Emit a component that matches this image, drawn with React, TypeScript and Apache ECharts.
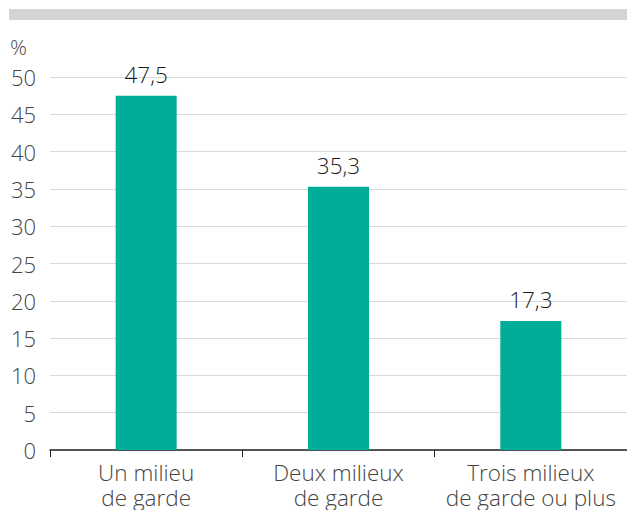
import React, { useEffect, useRef } from "react";
import * as echarts from "echarts";

const categories = ["Un milieu\nde garde", "Deux milieux\nde garde", "Trois milieux\nde garde ou plus"];
const values = [47.5, 35.3, 17.3];
const yMin = 0;
const yMax = 50;
const yStep = 5;
const unitLabel = "%";

const FONT = "'Open Sans', 'Noto Sans', sans-serif";

export default function App() {
  const ref = useRef<HTMLDivElement>(null);
  useEffect(() => {
    if (!ref.current) return;
    const chart = echarts.init(ref.current, undefined, { renderer: "svg" });
    chart.setOption({
      animation: false,
      textStyle: { fontFamily: FONT },
      graphic: [
        { type: "rect", shape: { x: 9, y: 9, width: 620, height: 11 }, style: { fill: "#d4d4d4" } },
        { type: "text", x: 10, y: 36, style: { text: unitLabel, fontSize: 21, fontWeight: 300, fill: "#444", fontFamily: FONT } },
      ],
      grid: { left: 50, right: -2, top: 77, bottom: 60, containLabel: false },
      xAxis: {
        type: "category",
        data: categories,
        axisLine: { lineStyle: { color: "#222", width: 1.5 } },
        axisTick: { show: true, length: 7, lineStyle: { color: "#222" } },
        axisLabel: { interval: 0, fontSize: 22.5, fontWeight: 300, color: "#444", lineHeight: 25, margin: 10, fontFamily: FONT },
      },
      yAxis: {
        type: "value",
        min: yMin,
        max: yMax,
        interval: yStep,
        axisLine: { show: false },
        axisTick: { show: false },
        splitLine: { lineStyle: { color: "#d9d9d9", width: 1 } },
        axisLabel: { fontSize: 22, fontWeight: 300, color: "#444", margin: 14, fontFamily: FONT },
      },
      series: [
        {
          type: "bar",
          data: values,
          barWidth: 61,
          itemStyle: { color: "#00ad99" },
          label: {
            show: true,
            position: "top",
            distance: 10,
            fontSize: 22.5,
            fontWeight: 300,
            color: "#1a1a1a",
            fontFamily: FONT,
            formatter: (p: any) => String(p.value).replace(".", ","),
          },
        },
      ],
    });
    return () => chart.dispose();
  }, []);
  return (
    <div
      ref={ref}
      style={{ position: "fixed", left: 0, top: 0, width: 627, height: 510, background: "#fff" }}
    />
  );
}
